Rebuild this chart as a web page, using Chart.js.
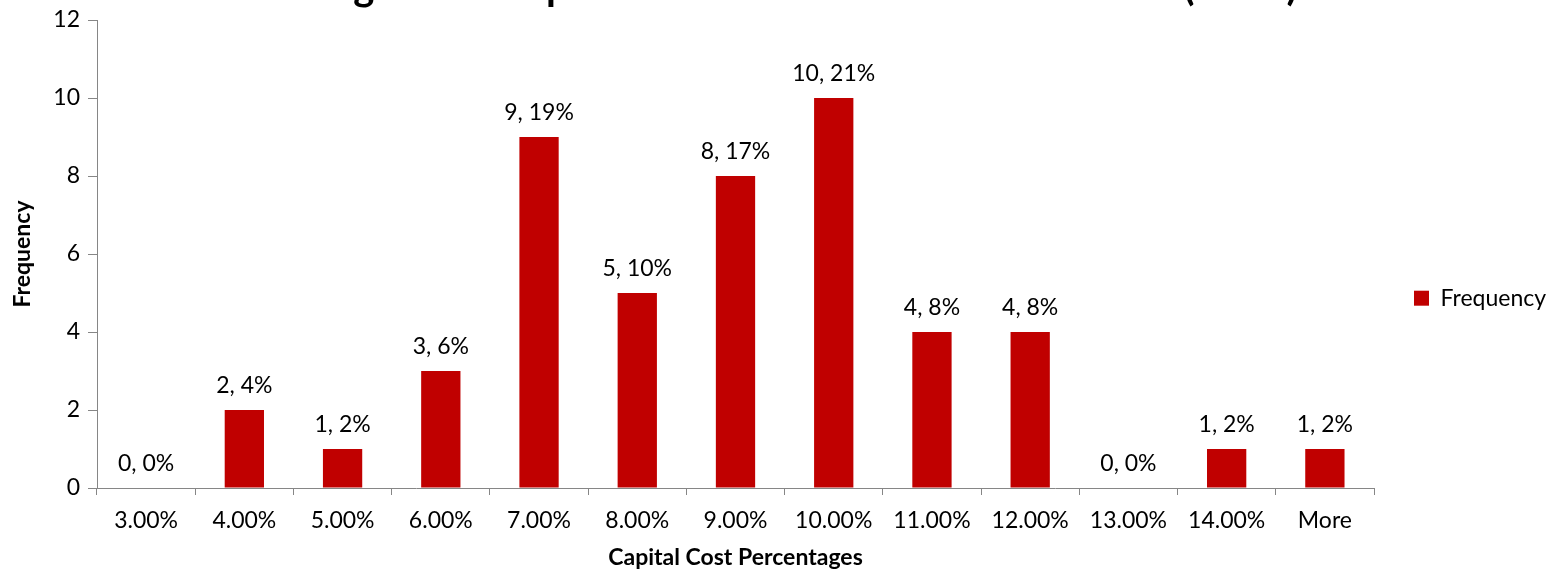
<!DOCTYPE html>
<html>
<head>
<meta charset="utf-8">
<script src="https://cdn.jsdelivr.net/npm/chart.js@4.4.0/dist/chart.umd.min.js"></script>
<style>
  html, body { margin: 0; padding: 0; background: #fff; overflow: hidden; }
  #wrap { width: 1555px; height: 574px; overflow: hidden; }
  #grafico { display: block; margin-top: -60px; }
</style>
</head>
<body>
<div id="wrap"><canvas id="grafico" width="1555" height="634"></canvas></div>
<script>
const categorias = ["3.00%", "4.00%", "5.00%", "6.00%", "7.00%", "8.00%", "9.00%", "10.00%", "11.00%", "12.00%", "13.00%", "14.00%", "More"];
const frequencias = [0, 2, 1, 3, 9, 5, 8, 10, 4, 4, 0, 1, 1];
const percentuais = [0, 4, 2, 6, 19, 10, 17, 21, 8, 8, 0, 2, 2];
const yMax = 12;
const yPasso = 2;

const fonte = "Lato, 'Open Sans', sans-serif";
const cinza = "#868686";

// rótulos "valor, %" acima de cada barra
const rotulosPlugin = {
  id: "rotulos",
  afterDatasetsDraw(chart) {
    const ctx = chart.ctx;
    const meta = chart.getDatasetMeta(0);
    ctx.save();
    ctx.font = `23px ${fonte}`;
    ctx.fillStyle = "#000";
    ctx.textAlign = "center";
    ctx.textBaseline = "alphabetic";
    meta.data.forEach((bar, i) => {
      ctx.fillText(`${frequencias[i]}, ${percentuais[i]}%`, bar.x, bar.y - 17);
    });
    ctx.restore();
  }
};

const ctx = document.getElementById("grafico").getContext("2d");
new Chart(ctx, {
  type: "bar",
  data: {
    labels: categorias,
    datasets: [{
      label: "Frequency",
      data: frequencias,
      backgroundColor: "#C00000",
      borderWidth: 0,
      barPercentage: 0.4,
      categoryPercentage: 1.0
    }]
  },
  options: {
    responsive: false,
    animation: false,
    layout: { padding: 0 },
    plugins: {
      tooltip: { enabled: false },
      title: {
        display: true,
        text: "Histogram of Capital Cost as a Percent of Total Cost (n=48)",
        color: "#000",
        font: { family: fonte, size: 40, weight: "bold", lineHeight: 1.2 },
        padding: { top: 23, bottom: 9 }
      },
      legend: {
        position: "right",
        align: "center",
        maxWidth: 181,
        // título vazio só para descer o item, como no Excel
        title: { display: true, text: "", padding: { top: 68, bottom: 0 } },
        labels: {
          boxWidth: 15,
          boxHeight: 15,
          padding: 40,
          color: "#000",
          font: { family: fonte, size: 23 }
        }
      }
    },
    scales: {
      x: {
        offset: true,
        grid: { offset: true, drawOnChartArea: false, drawTicks: true, tickLength: 7, color: cinza },
        border: { color: cinza, width: 1 },
        ticks: { color: "#000", font: { family: fonte, size: 23 }, padding: 12, maxRotation: 0, autoSkip: false },
        title: {
          display: true,
          text: "Capital Cost Percentages",
          color: "#000",
          font: { family: fonte, size: 23, weight: "bold" },
          padding: { top: 0, bottom: 3 }
        },
        afterFit: s => { s.height = 86; }
      },
      y: {
        min: 0,
        max: yMax,
        ticks: { stepSize: yPasso, color: "#000", font: { family: fonte, size: 23 }, padding: 8 },
        grid: { drawOnChartArea: false, drawTicks: true, tickLength: 9, color: cinza },
        border: { color: cinza, width: 1 },
        title: {
          display: true,
          text: "Frequency",
          color: "#000",
          font: { family: fonte, size: 23, weight: "bold" },
          padding: { top: 9, bottom: 0 }
        },
        afterFit: s => { s.width = 97; }
      }
    }
  },
  plugins: [rotulosPlugin]
});
</script>
</body>
</html>
